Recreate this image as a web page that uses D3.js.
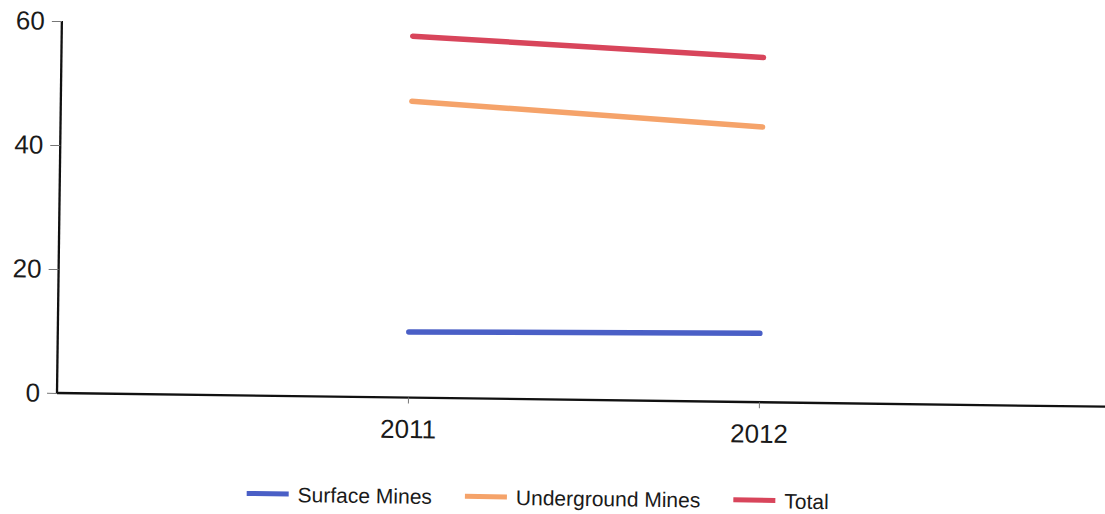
<!DOCTYPE html>
<html>
<head>
<meta charset="utf-8">
<script src="https://cdn.jsdelivr.net/npm/d3@7"></script>
<style>
  html, body { margin: 0; padding: 0; background: #ffffff; }
  svg { display: block; }
  text { font-family: "Liberation Sans", Arial, sans-serif; fill: #1a1a1a; }
</style>
</head>
<body>
<svg id="chart" width="1105" height="514"></svg>
<script>
const years = ["2011", "2012"];
const seriesNames = ["Surface Mines", "Underground Mines", "Total"];
const surfaceMines = [10.6, 11.1];
const undergroundMines = [47.8, 44.4];
const total = [58.3, 55.6];
const yTicks = [0, 20, 40, 60];
const colors = ["#4a5fc6", "#f5a36a", "#d8455b"];

const seriesValues = [surfaceMines, undergroundMines, total];
const series = seriesNames.map((name, i) => ({
  name, color: colors[i],
  values: years.map((y, j) => ({ year: y, value: seriesValues[i][j] }))
}));

const W = 1105, H = 514;
const originX = 57, originY = 393;
const svg = d3.select("#chart");

// the scanned reference is slightly tilted
const g = svg.append("g")
  .attr("transform", `rotate(0.75, ${originX}, ${originY})`);

const x = d3.scalePoint().domain(years).range([originX, 1110]).padding(1);
const y = d3.scaleLinear().domain([0, 60]).range([originY, 21]);

// y axis
const yAxis = g.append("g")
  .attr("transform", `translate(${originX},0)`)
  .call(d3.axisLeft(y).tickValues(yTicks).tickSize(10).tickPadding(7));
yAxis.select(".domain").attr("stroke", "#111").attr("stroke-width", 2.3)
  .attr("d", `M0,${y(60)}V${y(0)}`);
yAxis.selectAll(".tick line").attr("stroke", "#777").attr("stroke-width", 1);
yAxis.selectAll(".tick text").style("font-size", "26px").attr("fill", "#1a1a1a")
  .attr("font-family", "Liberation Sans, Arial, sans-serif");

// x axis
const xAxis = g.append("g")
  .attr("transform", `translate(0,${originY})`)
  .call(d3.axisBottom(x).tickSize(6).tickPadding(16));
xAxis.select(".domain").attr("stroke", "#111").attr("stroke-width", 2.3)
  .attr("d", `M${originX},0H${W + 20}`);
xAxis.selectAll(".tick line").attr("stroke", "#777").attr("stroke-width", 1);
xAxis.selectAll(".tick text").style("font-size", "26px").attr("fill", "#1a1a1a")
  .attr("font-family", "Liberation Sans, Arial, sans-serif");

// lines
const line = d3.line().x(d => x(d.year)).y(d => y(d.value));
g.selectAll(".series")
  .data(series)
  .join("path")
  .attr("class", "series")
  .attr("d", d => line(d.values))
  .attr("fill", "none")
  .attr("stroke", d => d.color)
  .attr("stroke-width", 5.5)
  .attr("stroke-linecap", "round");

// legend
const legend = g.append("g").attr("transform", "translate(248,491)");
let cx = 0;
series.forEach((s, i) => {
  const item = legend.append("g").attr("transform", `translate(${cx},0)`);
  item.append("line")
    .attr("x1", 0).attr("x2", 42).attr("y1", 0).attr("y2", 0)
    .attr("stroke", s.color).attr("stroke-width", 5);
  const t = item.append("text")
    .attr("x", 51).attr("y", 8)
    .style("font-size", "21px")
    .text(s.name);
  const w = t.node().getComputedTextLength();
  cx += 51 + w + 33;
});
</script>
</body>
</html>
